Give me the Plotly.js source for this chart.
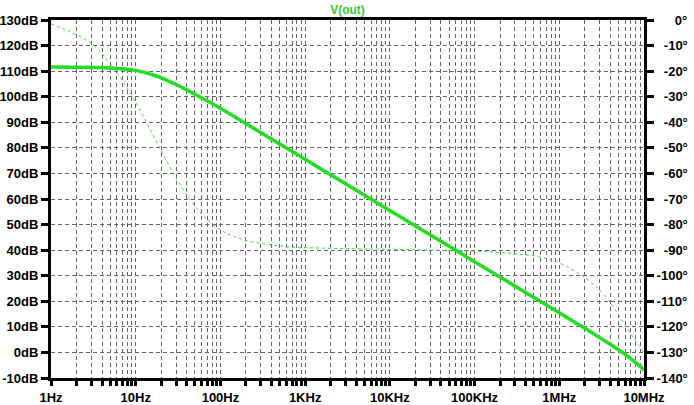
<!DOCTYPE html>
<html>
<head>
<meta charset="utf-8">
<script src="https://cdn.plot.ly/plotly-3.0.1.min.js"></script>
<style>html,body{margin:0;padding:0;background:#fff;}#chart{width:694px;height:405px;}</style>
</head>
<body>
<div id="chart"></div>
<script>
// Magnitude (dB) of V(out)
const magFreq = [1, 1.78, 3.16, 4.22, 5.62, 7.5, 10, 13.3, 17.8, 23.7, 31.6, 42.2, 56.2, 75, 100, 178, 316, 562, 1000, 1780, 3160, 5620, 10000, 17800, 31600, 56200, 100000, 178000, 316000, 562000, 1000000, 1780000, 3160000, 5620000, 7500000, 10000000];
const magDb   = [111.6, 111.55, 111.4, 111.3, 111.1, 110.8, 110.3, 109.3, 108.0, 106.3, 104.4, 102.3, 100.1, 97.8, 95.5, 90.5, 85.5, 80.5, 75.5, 70.5, 65.5, 60.5, 55.5, 50.5, 45.5, 40.5, 35.5, 30.5, 25.5, 20.5, 15.5, 10.5, 5.3, -0.1, -3.3, -6.8];

// Phase (degrees) of V(out)
const phaseFreq = [1, 1.78, 3.16, 5.62, 10, 17.8, 31.6, 56.2, 100, 178, 316, 562, 1000, 3160, 10000, 31600, 100000, 178000, 316000, 562000, 1000000, 1780000, 3160000, 5620000, 7500000, 10000000];
const phaseDeg  = [-1.5, -5.0, -9.8, -19.3, -32.2, -48.0, -63.0, -74.8, -82.1, -85.7, -87.5, -88.5, -89.0, -89.4, -89.7, -90.0, -90.4, -90.8, -91.5, -92.5, -95.0, -99.6, -106.3, -117.8, -124.2, -130.0];

// Axis tick labels
const xTickVals = [1, 10, 100, 1000, 10000, 100000, 1000000, 10000000];
const xTickText = ['1Hz', '10Hz', '100Hz', '1KHz', '10KHz', '100KHz', '1MHz', '10MHz'];
const dbTickVals = [-10, 0, 10, 20, 30, 40, 50, 60, 70, 80, 90, 100, 110, 120, 130];
const dbTickText = ['-10dB', '0dB', '10dB', '20dB', '30dB', '40dB', '50dB', '60dB', '70dB', '80dB', '90dB', '100dB', '110dB', '120dB', '130dB'];
const degTickVals = [-140, -130, -120, -110, -100, -90, -80, -70, -60, -50, -40, -30, -20, -10, 0];
const degTickText = ['-140°', '-130°', '-120°', '-110°', '-100°', '-90°', '-80°', '-70°', '-60°', '-50°', '-40°', '-30°', '-20°', '-10°', '0°'];

// right-align the right-axis labels by padding with no-break spaces
function padRight(t) {
  const w = ch => (ch >= '0' && ch <= '9') ? 2 : (ch === '-' ? 1.2 : (ch === '°' ? 1.44 : 1));
  const width = s => [...s].reduce((a, c) => a + w(c), 0);
  const maxW = Math.max(...degTickText.map(width));
  const n = Math.round(maxW - width(t));
  return '\u00a0'.repeat(Math.max(0, n)) + t;
}

const minorVals = [];
for (let d = 1; d < 10000000; d *= 10) {
  for (let k = 2; k <= 9; k++) minorVals.push(k * d);
}

const green = 'rgb(34,221,34)';
const gridCol = '#666666';
const tickFont = {family: 'Liberation Sans, Arial, sans-serif', size: 13, color: '#000', weight: 'bold'};

const traces = [
  {
    x: magFreq, y: magDb, type: 'scatter', mode: 'lines',
    line: {color: green, width: 3.5, shape: 'spline', smoothing: 1},
    xaxis: 'x', yaxis: 'y', hoverinfo: 'skip'
  },
  {
    x: phaseFreq, y: phaseDeg, type: 'scatter', mode: 'lines',
    line: {color: 'rgb(60,215,60)', width: 1, dash: 'dot', shape: 'spline', smoothing: 1},
    xaxis: 'x', yaxis: 'y2', hoverinfo: 'skip'
  }
];

const layout = {
  width: 694, height: 405,
  margin: {l: 51, r: 50, t: 20, b: 27, pad: 0},
  paper_bgcolor: '#fff', plot_bgcolor: '#fff',
  showlegend: false,
  title: {
    text: '<b>V(out)</b>', x: 0.5, xref: 'paper', xanchor: 'center', y: 0.985, yref: 'container', yanchor: 'top',
    font: {family: 'Liberation Sans, Arial, sans-serif', size: 12, color: 'rgb(50,205,50)', weight: 'bold'}
  },
  xaxis: {
    type: 'log', range: [0, 7],
    tickmode: 'array', tickvals: xTickVals, ticktext: xTickText,
    ticks: 'outside', ticklen: 5, tickwidth: 3, tickcolor: '#000',
    showline: true, linecolor: '#000', linewidth: 3, mirror: true,
    showgrid: true, gridcolor: gridCol, gridwidth: 1, griddash: '4px,3px',
    zeroline: false, tickfont: tickFont,
    minor: {
      tickmode: 'array', tickvals: minorVals,
      ticks: 'outside', ticklen: 5, tickwidth: 3, tickcolor: '#000',
      showgrid: true, gridcolor: gridCol, gridwidth: 1, griddash: '4px,3px'
    }
  },
  yaxis: {
    range: [-10, 130],
    tickmode: 'array', tickvals: dbTickVals, ticktext: dbTickText,
    ticks: 'outside', ticklen: 7, tickwidth: 3, tickcolor: '#000',
    showline: true, linecolor: '#000', linewidth: 3, mirror: false,
    showgrid: true, gridcolor: gridCol, gridwidth: 1, griddash: '4px,3px',
    zeroline: false, tickfont: tickFont
  },
  yaxis2: {
    range: [-140, 0], overlaying: 'y', side: 'right',
    tickmode: 'array', tickvals: degTickVals, ticktext: degTickText.map(padRight),
    ticks: 'outside', ticklen: 7, tickwidth: 3, tickcolor: '#000',
    showline: true, linecolor: '#000', linewidth: 3,
    showgrid: false, zeroline: false, tickfont: tickFont
  }
};

Plotly.newPlot('chart', traces, layout, {staticPlot: true, displayModeBar: false});
</script>
</body>
</html>
